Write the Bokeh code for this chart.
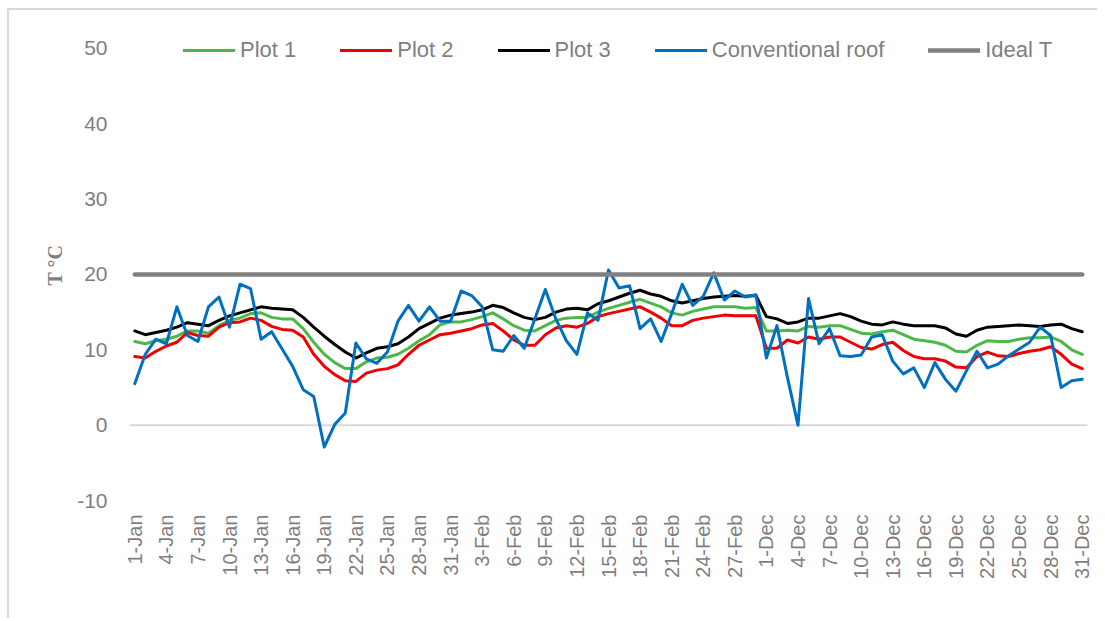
import math
from bokeh.plotting import figure
from bokeh.models import Range1d, FixedTicker, Span
from bokeh.embed import file_html
from bokeh.resources import INLINE

# ---- categories (days) ----
jan_days = list(range(1, 32))
feb_days = list(range(1, 30))
dec_days = list(range(1, 32))
dates = ([f"{d}-Jan" for d in jan_days] + [f"{d}-Feb" for d in feb_days]
         + [f"{d}-Dec" for d in dec_days])

# ---- series (T in deg C) ----
plot1 = [11.1, 10.8, 11.2, 11.4, 11.8, 12.5, 12.5, 12.2, 13.2, 13.9,
         14.2, 14.8, 14.9, 14.3, 14.1, 14.1, 12.8, 11.0, 9.4, 8.3,
         7.5, 7.5, 8.4,
         8.9, 9.0, 9.4, 10.2, 11.2, 12.0, 13.3, 13.7, 13.7, 14.0,
         14.4, 14.9, 14.1, 13.2, 12.6, 12.5, 13.2, 13.9, 14.2, 14.3,
         14.3, 15.0, 15.5,
         15.9, 16.3, 16.7, 16.2, 15.7, 14.9, 14.6, 15.1, 15.4, 15.7,
         15.7, 15.7, 15.5, 15.6,
         12.5, 12.5, 12.6, 12.5, 13.1, 13.0, 13.2, 13.2, 12.7,
         12.2, 12.1, 12.4, 12.6, 12.0, 11.4, 11.2, 11.0, 10.6, 9.8,
         9.7, 10.6, 11.2, 11.1, 11.1, 11.4, 11.6, 11.6, 11.7, 11.1,
         10.0, 9.4]

plot2 = [9.1, 8.9, 9.8, 10.5, 11.0, 12.3, 11.9, 11.8, 13.0, 13.6,
         13.7, 14.2, 13.9, 13.1, 12.7, 12.6, 11.7, 9.4, 7.8, 6.7,
         5.9, 5.8, 6.9,
         7.3, 7.5, 8.0, 9.4, 10.6, 11.3, 12.0, 12.2, 12.5, 12.8,
         13.3, 13.5, 12.5, 11.3, 10.6, 10.6, 12.0, 12.9, 13.2, 13.0,
         13.5, 14.4, 14.8,
         15.1, 15.4, 15.7, 15.0, 14.2, 13.2, 13.2, 13.9, 14.2, 14.4,
         14.6, 14.5, 14.5, 14.5,
         10.2, 10.2, 11.3, 10.9, 11.7, 11.4, 11.7, 11.7, 11.0,
         10.3, 10.1, 10.7, 11.0, 9.9, 9.1, 8.8, 8.8, 8.5, 7.7,
         7.6, 9.1, 9.7, 9.2, 9.1, 9.5, 9.8, 10.0, 10.4, 9.4,
         8.1, 7.5]

plot3 = [12.5, 12.0, 12.3, 12.6, 13.0, 13.6, 13.4, 13.2, 13.9, 14.5,
         14.9, 15.3, 15.7, 15.5, 15.4, 15.3, 14.3, 13.0, 11.8, 10.7,
         9.7, 8.9, 9.6,
         10.2, 10.4, 10.8, 11.7, 12.8, 13.5, 14.2, 14.6, 14.8, 15.0,
         15.3, 15.9, 15.6, 14.9, 14.3, 14.0, 14.3, 15.0, 15.4, 15.5,
         15.3, 16.1, 16.5,
         17.0, 17.5, 17.9, 17.4, 17.1, 16.5, 16.2, 16.5, 16.8, 17.0,
         17.1, 17.2, 17.1, 17.2,
         14.4, 14.1, 13.5, 13.7, 14.2, 14.2, 14.5, 14.8, 14.4,
         13.8, 13.4, 13.3, 13.7, 13.4, 13.2, 13.2, 13.2, 12.9, 12.1,
         11.8, 12.6, 13.0, 13.1, 13.2, 13.3, 13.2, 13.1, 13.3, 13.4,
         12.8, 12.4]

conventional = [5.5, 9.4, 11.4, 10.8, 15.7, 11.9, 11.1, 15.7, 17.0, 13.0,
                18.7, 18.1, 11.4, 12.4, 10.1, 7.8, 4.7, 3.8, -2.9, 0.1,
                1.6, 10.9, 8.8,
                8.2, 9.7, 13.8, 15.9, 13.8, 15.7, 13.8, 13.8, 17.8, 17.2,
                15.7, 10.0, 9.8, 11.9, 10.2, 14.1, 18.0, 14.1, 11.2, 9.4,
                14.9, 13.9, 20.6,
                18.2, 18.5, 12.8, 14.1, 11.1, 14.8, 18.7, 15.9, 17.1, 20.2,
                16.6, 17.8, 17.0, 17.3,
                8.9, 13.2, 6.3, 0.0, 16.8, 10.8, 12.8, 9.2, 9.1,
                9.3, 11.7, 12.0, 8.5, 6.8, 7.6, 5.0, 8.3, 6.1, 4.5,
                7.2, 9.8, 7.6, 8.1, 9.2, 10.1, 11.0, 13.0, 11.9, 5.0,
                5.9, 6.1]

ideal_t = [20.0] * len(dates)

y_ticks = [-10, 0, 10, 20, 30, 40, 50]
x_tick_idx = list(range(0, len(dates), 3))

x = list(range(len(dates)))

GREY_TXT = "#7F7F7F"
FONT = "Liberation Sans"

p = figure(width=1090, height=610, output_backend="svg", toolbar_location=None,
           x_range=Range1d(-0.5, len(dates) - 0.5), y_range=Range1d(-10, 52.5),
           min_border_left=120, min_border_right=12, min_border_top=19,
           min_border_bottom=120)
p.styles = {"margin-left": "7px", "margin-top": "8px",
            "border-left": "2px solid #D9D9D9", "border-top": "2px solid #D9D9D9"}
p.outline_line_color = None
p.xgrid.visible = False
p.ygrid.visible = False
p.background_fill_color = "white"
p.border_fill_color = "white"

p.add_layout(Span(location=0, dimension="width", line_color="#D9D9D9",
                  line_width=2, level="underlay"))

series = [
    ("Plot 1", plot1, "#4CB848", 3),
    ("Plot 2", plot2, "#F00000", 3),
    ("Plot 3", plot3, "#000000", 3),
    ("Conventional roof", conventional, "#0070C0", 3),
    ("Ideal T", ideal_t, "#808080", 4.5),
]
for name, ys, col, lw in series:
    p.line(x, ys, line_color=col, line_width=lw, line_join="round",
           line_cap="round", legend_label=name)

# x axis
xa = p.xaxis[0]
xa.ticker = FixedTicker(ticks=x_tick_idx)
xa.major_label_overrides = {i: dates[i] for i in x_tick_idx}
xa.major_label_orientation = math.pi / 2
xa.axis_line_color = None
xa.major_tick_in = 0
xa.major_tick_out = 0
xa.minor_tick_in = 0
xa.minor_tick_out = 0
xa.major_label_standoff = 14
xa.major_label_text_font = FONT
xa.major_label_text_font_size = "20px"
xa.major_label_text_color = GREY_TXT

# y axis
ya = p.yaxis[0]
ya.ticker = FixedTicker(ticks=y_ticks)
ya.major_label_overrides = {t: str(t) for t in y_ticks}
ya.axis_line_color = None
ya.major_tick_in = 0
ya.major_tick_out = 0
ya.minor_tick_in = 0
ya.minor_tick_out = 0
ya.major_label_standoff = 22
ya.major_label_text_font = FONT
ya.major_label_text_font_size = "21px"
ya.major_label_text_color = GREY_TXT
ya.axis_label = "T °C"
ya.axis_label_text_font = "Liberation Serif"
ya.axis_label_text_font_style = "bold"
ya.axis_label_text_font_size = "20px"
ya.axis_label_text_color = GREY_TXT
ya.axis_label_standoff = 8

lg = p.legend[0]
lg.orientation = "horizontal"
lg.location = (54, 437)
lg.label_text_font = FONT
lg.label_text_font_size = "22px"
lg.label_text_color = GREY_TXT
lg.glyph_width = 52
lg.glyph_height = 20
lg.label_standoff = 5
lg.spacing = 44
lg.padding = 0
lg.margin = 0
lg.border_line_color = None
lg.background_fill_alpha = 0

open("out.html", "w").write(file_html(p, INLINE))
